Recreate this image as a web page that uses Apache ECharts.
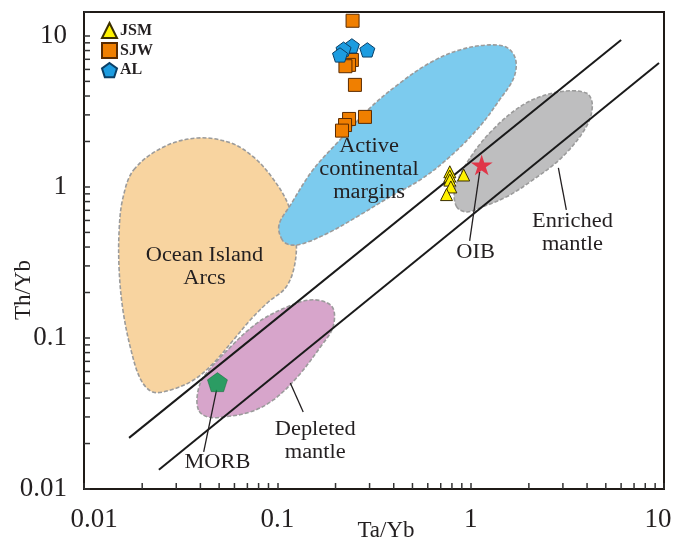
<!DOCTYPE html>
<html><head><meta charset="utf-8">
<script src="https://cdn.jsdelivr.net/npm/echarts@6/dist/echarts.min.js"></script>
<style>html,body{margin:0;padding:0;background:#fff}#c{width:675px;height:544px}</style>
</head><body><div id="c"></div>
<script>
// ---- data (Ta/Yb, Th/Yb) ----
const xTickLabels = ['0.01','0.1','1','10'];
const yTickLabels = ['0.01','0.1','1','10'];
const jsm = [[0.78,1.26],[0.78,1.18],[0.78,1.11],[0.79,1.0],[0.75,0.89],[0.92,1.2]];
const sjw = [[0.245,12.6],[0.243,6.93],[0.235,6.43],[0.225,6.3],[0.252,4.74],[0.284,2.91],[0.235,2.82],[0.224,2.57],[0.216,2.36]];
const al = [[0.243,8.59],[0.220,8.17],[0.211,7.48],[0.292,8.08]];
const oib = [[1.14,1.40]];
const morb = [[0.049,0.051]];
const arrayUpper = [[0.0171,0.0218],[6.0,9.41]];
const arrayLower = [[0.0244,0.0134],[9.42,6.62]];

const fieldOceanArcs = [[0.0181,1.30],[0.0258,1.84],[0.0387,2.11],[0.0572,1.96],[0.0752,1.58],[0.0942,1.15],[0.114,0.76],[0.125,0.446],[0.122,0.291],[0.110,0.214],[0.0898,0.173],[0.0726,0.132],[0.0593,0.097],[0.0468,0.0683],[0.0369,0.0527],[0.0281,0.0453],[0.0227,0.0439],[0.0197,0.0527],[0.0175,0.0833],[0.0159,0.153],[0.0152,0.282],[0.0152,0.519],[0.0159,0.846]];
const fieldActiveMargins = [[0.106,0.446],[0.102,0.560],[0.117,0.760],[0.153,1.30],[0.211,2.05],[0.302,3.34],[0.431,4.88],[0.615,6.63],[0.878,8.08],[1.25,8.72],[1.55,8.33],[1.71,6.94],[1.67,5.27],[1.41,3.77],[1.11,2.50],[0.779,1.58],[0.546,1.11],[0.382,0.859],[0.268,0.653],[0.188,0.504],[0.139,0.426],[0.117,0.413]];
const fieldEnriched = [[0.847,0.737],[0.827,0.955],[0.954,1.44],[1.30,2.39],[1.94,3.60],[2.88,4.26],[3.96,4.19],[4.26,3.49],[3.96,2.50],[2.98,1.58],[2.09,1.11],[1.53,0.859],[1.11,0.726],[0.954,0.683]];
const fieldDepleted = [[0.0391,0.0334],[0.0387,0.0432],[0.0416,0.0552],[0.0553,0.0833],[0.0789,0.126],[0.113,0.161],[0.153,0.179],[0.192,0.161],[0.194,0.118],[0.167,0.0872],[0.127,0.0552],[0.0954,0.0389],[0.0726,0.0324],[0.0527,0.030],[0.0436,0.030]];

const fieldLabels = [
  ['Ocean Island\nArcs', 0.0420, 0.295],
  ['Active\ncontinental\nmargins', 0.298, 1.296],
  ['Enriched\nmantle', 3.36, 0.496],
  ['OIB', 1.06, 0.366],
  ['Depleted\nmantle', 0.157, 0.0208],
  ['MORB', 0.049, 0.0149]
];
const leaders = [
  [[1.113,1.257],[0.988,0.439]],
  [[2.842,1.336],[3.125,0.704]],
  [[0.0485,0.0453],[0.0416,0.0176]],
  [[0.1167,0.0504],[0.1361,0.0324]]
];
const minorMultipliers = [2,3,4,5,6,7,8,9];
const decades = [0.01,0.1,1];

// ---- styles ----
const SERIF = '"Liberation Serif", "DejaVu Serif", serif';
const INK = '#231f20';
const fields = [
  {pts: fieldOceanArcs, fill: '#f8d4a0'},
  {pts: fieldActiveMargins, fill: '#7ccbee'},
  {pts: fieldEnriched, fill: '#bebebf'},
  {pts: fieldDepleted, fill: '#d7a5cb'}
];
const pentagon = 'path://M0,-100L95,-31L59,81L-59,81L-95,-31Z';
const star = 'path://M0,-100L22,-31L95,-31L36,12L59,81L0,38L-59,81L-36,12L-95,-31L-22,-31Z';

const minorVals = [];
decades.forEach(d => minorMultipliers.forEach(m => minorVals.push(+(d*m).toPrecision(3))));

const X_MIN = 0.01, X_MAX = 10, Y_MIN = 0.01, Y_MAX = 14.4;
const labelFont = {fontFamily: SERIF, fontSize: 27, color: INK};

const chart = echarts.init(document.getElementById('c'), null, {renderer:'canvas'});
chart.setOption({
  animation: false,
  backgroundColor: '#fff',
  grid: {left: 84, right: 11, top: 12, bottom: 55, outerBoundsMode: 'none', containLabel: false,
    show: true, borderColor: '#1f1a17', borderWidth: 2, backgroundColor: 'transparent'},
  legend: {
    data: ['JSM','SJW','AL'], orient: 'vertical', left: 96, top: 17,
    itemWidth: 15, itemHeight: 15, itemGap: 3,
    textStyle: {fontFamily: SERIF, fontWeight: 'bold', fontSize: 16, color: INK, padding: [0,0,0,-2]}
  },
  xAxis: {
    type: 'log', logBase: 10, min: X_MIN, max: X_MAX,
    axisLine: {show: true, lineStyle: {color: '#1f1a17', width: 2}},
    axisTick: {show: true, inside: true, length: 6, lineStyle: {color: '#333', width: 1.5}},
    axisLabel: Object.assign({}, labelFont, {margin: 17,
      formatter: v => {
        const i = xTickLabels.findIndex(t => Math.abs(parseFloat(t) - v) < 1e-9 * Math.max(1, v));
        if (i < 0) return '';
        if (i === 0) return '{first|' + xTickLabels[i] + '}';
        if (i === xTickLabels.length - 1) return '{last|' + xTickLabels[i] + '}';
        return xTickLabels[i];
      },
      rich: {
        first: Object.assign({}, labelFont, {padding: [0, 0, 0, 20]}),
        last: Object.assign({}, labelFont, {padding: [0, 12, 0, 0]})
      }}),
    splitLine: {show: false}
  },
  yAxis: {
    type: 'log', logBase: 10, min: Y_MIN, max: Y_MAX,
    axisLine: {show: true, lineStyle: {color: '#1f1a17', width: 2}},
    axisTick: {show: true, inside: true, length: 6, lineStyle: {color: '#333', width: 1.5}},
    axisLabel: Object.assign({}, labelFont, {margin: 17,
      formatter: v => yTickLabels.find(t => Math.abs(parseFloat(t) - v) < 1e-9 * Math.max(1, v)) || ''}),
    splitLine: {show: false}
  },
  graphic: [{
    type: 'text', x: 24, y: 290, rotation: Math.PI / 2,
    style: {text: 'Th/Yb', fontFamily: SERIF, fontSize: 23, fill: INK, align: 'center', verticalAlign: 'middle'}
  }, {
    type: 'text', x: 386, y: 531,
    style: {text: 'Ta/Yb', fontFamily: SERIF, fontSize: 23, fill: INK, align: 'center', verticalAlign: 'middle'}
  }],
  series: [
    {
      type: 'custom', name: 'fields', z: 1, silent: true,
      encode: {x: 0, y: 1},
      data: fields.map(f => [f.pts[0][0], f.pts[0][1]]),
      renderItem: (params, api) => {
        const f = fields[params.dataIndex];
        return {
          type: 'polygon',
          shape: {points: f.pts.map(p => api.coord(p)), smooth: 0.35},
          style: {fill: f.fill, stroke: '#9b9b9b', lineWidth: 1.6, lineDash: [4, 2]}
        };
      }
    },
    {type: 'line', name: 'arrayUpper', data: arrayUpper, z: 3, symbol: 'none', silent: true, lineStyle: {color: '#1a1a1a', width: 2}},
    {type: 'line', name: 'arrayLower', data: arrayLower, z: 3, symbol: 'none', silent: true, lineStyle: {color: '#1a1a1a', width: 2}},
    {
      type: 'custom', name: 'leaders', z: 4, silent: true, encode: {x: 0, y: 1},
      data: leaders.map(l => [l[0][0], l[0][1]]),
      renderItem: (params, api) => {
        const l = leaders[params.dataIndex];
        const a = api.coord(l[0]), b = api.coord(l[1]);
        return {type: 'line', shape: {x1: a[0], y1: a[1], x2: b[0], y2: b[1]}, style: {stroke: INK, lineWidth: 1.3}};
      }
    },
    {
      type: 'custom', name: 'labels', z: 4, silent: true, encode: {x: 0, y: 1},
      data: fieldLabels.map(l => [l[1], l[2]]),
      renderItem: (params, api) => {
        const l = fieldLabels[params.dataIndex];
        const p = api.coord([l[1], l[2]]);
        return {type: 'text', x: p[0], y: p[1], scaleX: 1.12,
          style: {text: l[0], fontFamily: SERIF, fontSize: 20, fill: INK, align: 'center', verticalAlign: 'middle', lineHeight: 23}};
      }
    },
    {
      type: 'custom', name: 'xMinor', z: 5, silent: true, encode: {x: 0, y: 1},
      data: minorVals.map(v => [v, Y_MIN]),
      renderItem: (params, api) => {
        const p = api.coord([api.value(0), Y_MIN]);
        return {type: 'line', shape: {x1: p[0], y1: p[1], x2: p[0], y2: p[1] - 6}, style: {stroke: '#333', lineWidth: 1.5}};
      }
    },
    {
      type: 'custom', name: 'yMinor', z: 5, silent: true, encode: {x: 0, y: 1},
      data: minorVals.map(v => [X_MIN, v]),
      renderItem: (params, api) => {
        const p = api.coord([X_MIN, api.value(1)]);
        return {type: 'line', shape: {x1: p[0], y1: p[1], x2: p[0] + 6, y2: p[1]}, style: {stroke: '#333', lineWidth: 1.5}};
      }
    },
    {type: 'scatter', name: 'OIB', data: oib, z: 6, symbol: star, symbolKeepAspect: true, symbolSize: 22, itemStyle: {color: '#e8142b'}},
    {type: 'scatter', name: 'MORB', data: morb, z: 6, symbol: pentagon, symbolKeepAspect: true, symbolSize: 20, itemStyle: {color: '#009a49', borderColor: '#0a5a2a', borderWidth: 0.5}},
    {type: 'scatter', name: 'JSM', data: jsm, z: 7, symbol: 'triangle', symbolSize: 12, itemStyle: {color: '#fff200', borderColor: '#3b2f00', borderWidth: 1, opacity: 1}},
    {type: 'scatter', name: 'SJW', data: sjw, z: 7, symbol: 'rect', symbolSize: 13, itemStyle: {color: '#f07f00', borderColor: '#5a2b00', borderWidth: 1, opacity: 1}},
    {type: 'scatter', name: 'AL', data: al, z: 7, symbol: pentagon, symbolKeepAspect: true, symbolSize: 15, itemStyle: {color: '#1c9ce0', borderColor: '#0b3f66', borderWidth: 1, opacity: 1}}
  ]
});
</script>
</body></html>
